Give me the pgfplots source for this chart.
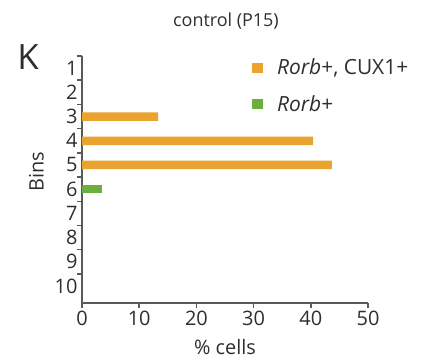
\documentclass[border=0pt]{standalone}
\usepackage{fontspec}
\setmainfont{Open Sans}
\usepackage{pgfplots}
\pgfplotsset{compat=1.18}
\definecolor{barorange}{HTML}{E9A32E}
\definecolor{bargreen}{HTML}{6CAF3C}
\definecolor{axgray}{HTML}{5A5A5A}
\definecolor{txt}{HTML}{2E2E2E}
\begin{document}
\begin{tikzpicture}[x=1bp,y=1bp]
\useasboundingbox (0,0) rectangle (422,362);
\node[font=\fontsize{18}{22}\selectfont, text=txt] at (226,341) {control (P15)};
\node[font=\fontsize{35}{40}\selectfont, text=txt] at (28,305) {K};
\begin{axis}[
  at={(82bp,59bp)}, anchor=south west,
  scale only axis, width=286bp, height=247bp,
  xmin=0, xmax=50, ymin=0.5, ymax=10.7,
  y dir=reverse,
  axis lines*=left,
  axis line style={axgray, line width=1.8bp, -},
  xtick={0,10,...,50},
  ytick={0.5,1.5,...,9.5},
  yticklabels={},
  extra y ticks={1,...,10},
  extra y tick labels={1,2,3,4,5,6,7,8,9,10},
  extra y tick style={major tick length=0pt},
  tick style={axgray, line width=1.5bp},
  tick align=outside,
  major tick length=5bp,
  ticklabel style={font=\fontsize{20}{22}\selectfont, text=txt},
  /pgf/number format/assume math mode=true,
  yticklabel style={xshift=-1bp},
  xlabel={\% cells}, ylabel={Bins},
  label style={font=\fontsize{20}{22}\selectfont, text=txt},
  xlabel style={yshift=-6bp},
  ylabel style={yshift=-1bp, xshift=8bp},
  xbar, bar width=8.5bp, bar shift=0pt,
  legend style={at={(0.584,1.005)}, anchor=north west, draw=none, fill=none,
    font=\fontsize{21}{24}\selectfont, text=txt, row sep=15bp},
  legend cell align=left,
  clip=false,
]
\addplot[draw=none, fill=barorange,
  legend image code/.code={\path (12bp,0bp); \fill[barorange] (-11bp,-5bp) rectangle (0bp,5bp);}]
  coordinates {(13.3,3) (40.4,4) (43.7,5)};
\addlegendentry{\textit{Rorb}+, CUX1+}
\addplot[draw=none, fill=bargreen,
  legend image code/.code={\path (12bp,0bp); \fill[bargreen] (-11bp,-5bp) rectangle (0bp,5bp);}]
  coordinates {(3.5,6)};
\addlegendentry{\textit{Rorb}+}
\end{axis}
\end{tikzpicture}
\end{document}
